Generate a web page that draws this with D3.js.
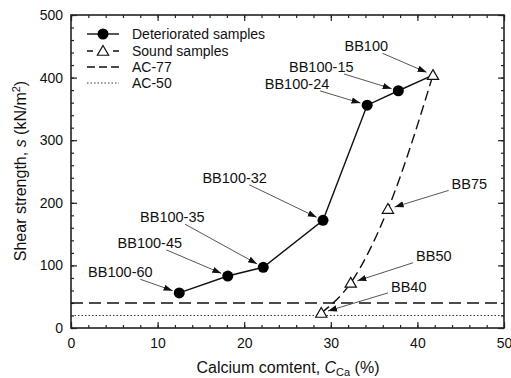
<!DOCTYPE html>
<html><head><meta charset="utf-8">
<script src="https://cdn.jsdelivr.net/npm/d3@7"></script>
<style>body{margin:0;background:#fff;} svg{display:block;font-family:Arial,"Liberation Sans",sans-serif;}</style>
</head><body>
<svg id="c" width="511" height="378"></svg>
<script>
// Data
const detNames = ["BB100-60","BB100-45","BB100-35","BB100-32","BB100-24","BB100-15"];
const detCa = [12.5, 18.1, 22.2, 29.1, 34.2, 37.8];
const detS  = [56, 83, 97, 172, 356, 379];
const soundNames = ["BB40","BB50","BB75","BB100"];
const soundCa = [28.9, 32.3, 36.6, 41.8];
const soundS  = [24, 72, 190, 404];
const ac77 = 40;
const ac50 = 20;
const xTicks = [0,10,20,30,40,50];
const yTicks = [0,100,200,300,400,500];
// label anchor positions in data units [labelX, labelY] (text center)
const detLabelPos = [[5.7, 89],[9.1, 136],[11.7, 177],[18.9, 240],[26.1, 390],[28.9, 417]];
const soundLabelPos = [[39.0, 66],[41.9, 115],[46.0, 230],[34.1, 450]];

(function(){
const margin = {left:71, top:15, right:7, bottom:50};
const W = 511, H = 378;
const iw = W - margin.left - margin.right, ih = H - margin.top - margin.bottom;
const svg = d3.select("#c");
const defs = svg.append("defs");
defs.append("marker").attr("id","ah").attr("viewBox","0 0 10 10").attr("refX",10).attr("refY",5)
  .attr("markerWidth",9).attr("markerHeight",9).attr("markerUnits","userSpaceOnUse").attr("orient","auto")
  .append("path").attr("d","M0,1.5L10,5L0,8.5z").attr("fill","#111");

const g = svg.append("g").attr("transform",`translate(${margin.left},${margin.top})`);
const x = d3.scaleLinear().domain([0,50]).range([0,iw]);
const y = d3.scaleLinear().domain([0,500]).range([ih,0]);

// axes
const fs = 14;
g.append("g").attr("transform",`translate(0,${ih})`)
  .call(d3.axisBottom(x).tickValues(xTicks).tickSize(-6).tickPadding(10).tickFormat(d3.format("d")));
g.append("g").attr("transform",`translate(0,${ih})`)
  .call(d3.axisBottom(x).tickValues(d3.range(0,51,2)).tickSize(-3).tickFormat(""));
g.append("g")
  .call(d3.axisLeft(y).tickValues(yTicks).tickSize(-6).tickPadding(8).tickFormat(d3.format("d")));
g.append("g").call(d3.axisLeft(y).tickValues(d3.range(0,501,20)).tickSize(-3).tickFormat(""));
g.append("g").call(d3.axisTop(x).tickValues(xTicks).tickSize(-6).tickFormat(""));
g.append("g").call(d3.axisTop(x).tickValues(d3.range(0,51,2)).tickSize(-3).tickFormat(""));
g.append("g").attr("transform",`translate(${iw},0)`).call(d3.axisRight(y).tickValues(yTicks).tickSize(-6).tickFormat(""));
g.append("g").attr("transform",`translate(${iw},0)`).call(d3.axisRight(y).tickValues(d3.range(0,501,20)).tickSize(-3).tickFormat(""));
g.selectAll(".domain").remove();
g.selectAll(".tick line").attr("stroke","#222").attr("stroke-width",1.2);
g.selectAll(".tick text").attr("font-size",fs).attr("fill","#111").attr("font-family","Arial,'Liberation Sans',sans-serif");
g.append("rect").attr("x",0).attr("y",0).attr("width",iw).attr("height",ih)
  .attr("fill","none").attr("stroke","#222").attr("stroke-width",1.6);

// horizontal reference lines
g.append("line").attr("x1",0).attr("x2",iw).attr("y1",y(ac77)).attr("y2",y(ac77))
  .attr("stroke","#111").attr("stroke-width",1.4).attr("stroke-dasharray","12,6");
g.append("line").attr("x1",0).attr("x2",iw).attr("y1",y(ac50)).attr("y2",y(ac50))
  .attr("stroke","#333").attr("stroke-width",1).attr("stroke-dasharray","1.5,2");

// sound curve (dashed)
const soundPts = soundCa.map((d,i)=>[d,soundS[i]]);
g.append("path").datum(soundPts)
  .attr("d", d3.line().x(d=>x(d[0])).y(d=>y(d[1])).curve(d3.curveMonotoneX))
  .attr("fill","none").attr("stroke","#111").attr("stroke-width",1.4).attr("stroke-dasharray","10,5");

// deteriorated line, ending at sound BB100
const detPts = detCa.map((d,i)=>[d,detS[i]]).concat([[soundCa[3],soundS[3]]]);
g.append("path").datum(detPts)
  .attr("d", d3.line().x(d=>x(d[0])).y(d=>y(d[1])))
  .attr("fill","none").attr("stroke","#111").attr("stroke-width",1.4);

// markers
g.selectAll(".det").data(detCa).enter().append("circle")
  .attr("cx",d=>x(d)).attr("cy",(d,i)=>y(detS[i])).attr("r",5.5).attr("fill","#000");
const tri = d3.symbol().type(d3.symbolTriangle).size(55);
g.selectAll(".snd").data(soundCa).enter().append("path")
  .attr("d",tri).attr("transform",(d,i)=>`translate(${x(d)},${y(soundS[i])+1})`)
  .attr("fill","#fff").attr("stroke","#111").attr("stroke-width",1.2);

// annotations
function annotate(names, xs, ys, pos){
  names.forEach((n,i)=>{
    const px = x(xs[i]), py = y(ys[i]);
    const lx = x(pos[i][0]), ly = y(pos[i][1]);
    const t = g.append("text").attr("x",lx).attr("y",ly).attr("text-anchor","middle")
      .attr("dominant-baseline","central").attr("font-size",14.5).attr("fill","#111").text(n);
    const bb = t.node().getBBox();
    const dx = px - lx, dy = py - ly;
    const hw = bb.width/2 + 3, hh = bb.height/2 - 1;
    const s = Math.min(hw/Math.abs(dx||1e-6), hh/Math.abs(dy||1e-6));
    const sx = lx + dx*s, sy = ly + dy*s;
    const len = Math.hypot(dx,dy);
    const ex = px - dx/len*7, ey = py - dy/len*7;
    g.append("line").attr("x1",sx).attr("y1",sy).attr("x2",ex).attr("y2",ey)
      .attr("stroke","#555").attr("stroke-width",1).attr("marker-end","url(#ah)");
  });
}
annotate(detNames, detCa, detS, detLabelPos);
annotate(soundNames, soundCa, soundS, soundLabelPos);

// legend
const leg = g.append("g");
const lx0 = 87 - margin.left, lx1 = 119 - margin.left, ltx = 132 - margin.left;
const rows = [34,51,67,83].map(v=>v-margin.top);
const labels = ["Deteriorated samples","Sound samples","AC-77","AC-50"];
leg.append("line").attr("x1",lx0).attr("x2",lx1).attr("y1",rows[0]).attr("y2",rows[0]).attr("stroke","#111").attr("stroke-width",1.4);
leg.append("circle").attr("cx",(lx0+lx1)/2).attr("cy",rows[0]).attr("r",5.5).attr("fill","#000");
leg.append("line").attr("x1",lx0).attr("x2",lx1).attr("y1",rows[1]).attr("y2",rows[1]).attr("stroke","#111").attr("stroke-width",1.4).attr("stroke-dasharray","6,20,6,0");
leg.append("path").attr("d",tri).attr("transform",`translate(${(lx0+lx1)/2},${rows[1]+1})`).attr("fill","#fff").attr("stroke","#111").attr("stroke-width",1.2);
leg.append("line").attr("x1",lx0).attr("x2",lx1).attr("y1",rows[2]).attr("y2",rows[2]).attr("stroke","#111").attr("stroke-width",1.4).attr("stroke-dasharray","8,4");
leg.append("line").attr("x1",lx0).attr("x2",lx1).attr("y1",rows[3]).attr("y2",rows[3]).attr("stroke","#333").attr("stroke-width",1).attr("stroke-dasharray","1.5,2");
labels.forEach((l,i)=>leg.append("text").attr("x",ltx).attr("y",rows[i]).attr("dominant-baseline","central")
  .attr("font-size",fs).attr("fill","#111").text(l));

// axis titles
const yt = svg.append("text").attr("transform","translate(26,171) rotate(-90)").attr("text-anchor","middle")
  .attr("font-size",16).attr("fill","#111");
yt.append("tspan").text("Shear strength, ");
yt.append("tspan").attr("font-style","italic").text("s");
yt.append("tspan").text(" (kN/m");
yt.append("tspan").attr("font-size",11).attr("dy",-6).text("2");
yt.append("tspan").attr("dy",6).text(")");

const xt = svg.append("text").attr("x",288).attr("y",373).attr("text-anchor","middle")
  .attr("font-size",16).attr("fill","#111");
xt.append("tspan").text("Calcium comtent, ");
xt.append("tspan").attr("font-style","italic").text("C");
xt.append("tspan").attr("font-size",11).attr("dy",3).text("Ca");
xt.append("tspan").attr("dy",-3).text(" (%)");
})();
</script>
</body></html>
